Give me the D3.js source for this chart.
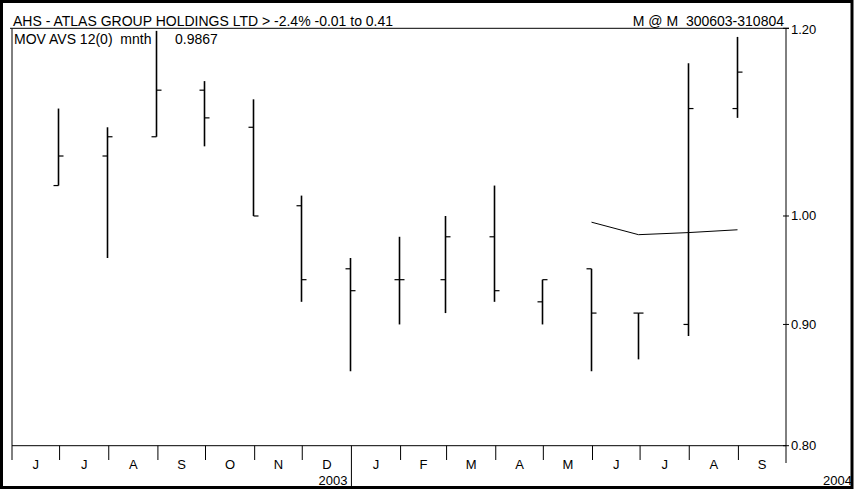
<!DOCTYPE html>
<html><head><meta charset="utf-8">
<script src="https://cdn.jsdelivr.net/npm/d3@7"></script>
<style>
html,body{margin:0;padding:0;background:#fff;}
svg{display:block;}
text{font-family:"Liberation Sans",Arial,sans-serif;fill:#000;white-space:pre;}
</style></head>
<body>
<svg id="chart" width="855" height="489"></svg>
<script>
// ---- data ----
const barMonths = ["2003-06","2003-07","2003-08","2003-09","2003-10","2003-11","2003-12",
  "2004-01","2004-02","2004-03","2004-04","2004-05","2004-06","2004-07","2004-08"];
const opens  = [1.03,1.06,1.08,1.13,1.09,1.01,0.95,0.94,0.94,0.98,0.92,0.95,0.91,0.90,1.11];
const highs  = [1.11,1.09,1.197,1.14,1.12,1.02,0.96,0.98,1.00,1.03,0.94,0.95,0.91,1.16,1.19];
const lows   = [1.03,0.96,1.08,1.07,1.00,0.92,0.86,0.90,0.91,0.92,0.90,0.86,0.87,0.89,1.10];
const closes = [1.06,1.08,1.13,1.10,1.00,0.94,0.93,0.94,0.98,0.93,0.94,0.91,0.91,1.11,1.15];
const maMonths = ["2004-05","2004-06","2004-07","2004-08"];
const maValues = [0.994,0.982,0.984,0.9867];
const monthLabels = ["J","J","A","S","O","N","D","J","F","M","A","M","J","J","A","S"];
const yTicks = [0.80,0.90,1.00,1.20];
const yearLabels = [{year:"2003", end:"2004-01"},{year:"2004", end:"2004-10"}];
const titleText = "AHS - ATLAS GROUP HOLDINGS LTD > -2.4% -0.01 to 0.41";
const rightTitle = "M @ M  300603-310804";
const maLabel = "MOV AVS 12(0)  mnth";
const maLast = "0.9867";

// ---- layout ----
const svg = d3.select("#chart");
const parseM = d3.timeParse("%Y-%m");
const L = 12, R = 786, T = 28.3, B = 445.7;
const x = d3.scaleTime().domain([parseM("2003-06"), parseM("2004-10")]).range([L, R]);
const y = d3.scaleLog().domain([0.8, 1.2]).range([B, T]);
const monthEnd = s => d3.timeDay.offset(d3.timeMonth.offset(parseM(s), 1), -1);

// outer border
svg.append("rect").attr("x",1.5).attr("y",1.5).attr("width",850.5).attr("height",486)
  .attr("fill","none").attr("stroke","#000").attr("stroke-width",3);

// frame lines
const g = svg.append("g").attr("stroke","#000").attr("stroke-width",1).attr("fill","none");
g.append("line").attr("x1",10).attr("x2",R+3).attr("y1",T).attr("y2",T);
g.append("line").attr("x1",L).attr("x2",L).attr("y1",T).attr("y2",460);
g.append("line").attr("x1",L).attr("x2",R).attr("y1",B).attr("y2",B);
g.append("line").attr("x1",R).attr("x2",R).attr("y1",T).attr("y2",463);

// y ticks & labels
yTicks.forEach(v => {
  g.append("line").attr("x1",R-3).attr("x2",R+3).attr("y1",y(v)).attr("y2",y(v));
  svg.append("text").attr("x",791).attr("y",y(v)+ (v===1.2?2:1)).attr("dominant-baseline","middle")
    .attr("font-size",13).text(d3.format(".2f")(v));
});

// month separators and labels
const monthStarts = d3.timeMonth.range(parseM("2003-06"), d3.timeMonth.offset(parseM("2004-10"),1));
monthStarts.forEach((d,i) => {
  if (i>0 && i<monthStarts.length-1) {
    const isYear = d.getMonth()===0;
    g.append("line").attr("x1",x(d)).attr("x2",x(d)).attr("y1",B).attr("y2",isYear?487:460);
  }
  if (i<monthLabels.length) {
    const mid = (x(d)+x(d3.timeMonth.offset(d,1)))/2;
    svg.append("text").attr("x",mid).attr("y",468.5).attr("text-anchor","middle")
      .attr("font-size",13).text(monthLabels[i]);
  }
});
yearLabels.forEach(yl => {
  const xe = Math.min(x(parseM(yl.end)) - 4, 852);
  svg.append("text").attr("x", yl.year==="2004"?852:xe).attr("y",485).attr("text-anchor","end")
    .attr("font-size",13).text(yl.year);
});

// OHLC bars
const bars = svg.append("g").attr("stroke","#000").attr("fill","none");
barMonths.forEach((m,i) => {
  const cx = Math.round(x(monthEnd(m)))+0.5;
  bars.append("line").attr("x1",cx).attr("x2",cx).attr("y1",y(highs[i])).attr("y2",y(lows[i])).attr("stroke-width",1.6);
  bars.append("line").attr("x1",cx-5).attr("x2",cx).attr("y1",y(opens[i])).attr("y2",y(opens[i])).attr("stroke-width",1.2);
  bars.append("line").attr("x1",cx).attr("x2",cx+5).attr("y1",y(closes[i])).attr("y2",y(closes[i])).attr("stroke-width",1.2);
});

// moving average
const line = d3.line().x(d => Math.round(x(monthEnd(d[0])))+0.5).y(d => y(d[1]));
svg.append("path").datum(maMonths.map((m,i)=>[m,maValues[i]])).attr("d",line)
  .attr("fill","none").attr("stroke","#000").attr("stroke-width",1);

// header texts (drawn over)
svg.append("text").attr("x",13).attr("y",25.5).attr("font-size",14).text(titleText);
svg.append("text").attr("x",784).attr("y",25.5).attr("text-anchor","end").attr("font-size",14).text(rightTitle);
svg.append("text").attr("x",14).attr("y",43.5).attr("font-size",14).text(maLabel);
svg.append("text").attr("x",175).attr("y",43.5).attr("font-size",14).text(maLast);
</script>
</body></html>
